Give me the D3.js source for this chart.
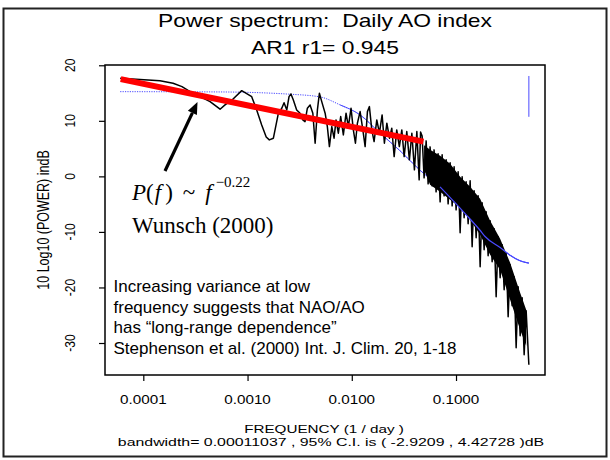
<!DOCTYPE html>
<html>
<head>
<meta charset="utf-8">
<script src="https://cdn.jsdelivr.net/npm/d3@7/dist/d3.min.js"></script>
<style>
  body { margin: 0; background: #fff; }
  text { white-space: pre; }
</style>
</head>
<body>
<script>
// periodogram of the daily AO index, [frequency (1/day), power (dB)]
const spectrumLow = [
    [6.0e-5, 17.66], [9.29e-5, 17.45], [1.445e-4, 17.23], [1.93e-4, 16.76], [2.35e-4, 16.15],
    [2.81e-4, 15.25], [3.50e-4, 14.35], [4.37e-4, 13.45], [5.45e-4, 12.09], [6.08e-4, 12.86],
    [7.10e-4, 13.76], [8.79e-4, 15.43], [1.096e-3, 14.35], [1.224e-3, 11.96], [1.367e-3, 9.26],
    [1.51e-3, 7.10], [1.618e-3, 6.57], [1.77e-3, 6.87], [1.977e-3, 11.37], [2.13e-3, 12.27],
    [2.24e-3, 13.27], [2.38e-3, 11.96], [2.50e-3, 14.35], [2.61e-3, 14.84], [2.75e-3, 13.76],
    [2.96e-3, 11.96], [3.19e-3, 11.37], [3.39e-3, 10.16], [3.56e-3, 9.86], [3.75e-3, 12.27],
    [3.98e-3, 12.86], [4.23e-3, 11.37], [4.45e-3, 5.97], [4.68e-3, 11.96], [4.89e-3, 14.96],
    [5.15e-3, 13.45], [5.55e-3, 11.37], [5.83e-3, 8.96], [6.10e-3, 5.36], [6.43e-3, 8.96],
    [6.76e-3, 6.87], [7.06e-3, 10.16], [7.43e-3, 7.77], [7.83e-3, 10.76], [8.30e-3, 7.47],
    [8.81e-3, 11.37], [9.27e-3, 8.96], [9.84e-3, 12.27], [1.035e-2, 8.36], [1.084e-2, 5.97],
    [1.132e-2, 9.57], [1.202e-2, 11.66], [1.277e-2, 8.36], [1.343e-2, 5.36], [1.413e-2, 11.66],
    [1.476e-2, 12.56], [1.556e-2, 8.36], [1.637e-2, 6.26], [1.738e-2, 10.16], [1.841e-2, 7.77],
    [1.954e-2, 11.06], [2.056e-2, 5.97], [2.17e-2, 9.57], [2.30e-2, 6.87], [2.42e-2, 8.67],
    [2.55e-2, 3.56], [2.70e-2, 8.36], [2.86e-2, 5.36], [3.02e-2, 8.36], [3.18e-2, 3.56],
    [3.37e-2, 8.06], [3.57e-2, 2.97], [3.77e-2, 7.77], [3.99e-2, 1.17], [4.21e-2, 8.06],
    [4.43e-2, -0.63], [4.57e-2, 8.0]
];
const spectrumHigh = [
    [0.0473, 7.28], [0.0494, -0.27], [0.0517, 6.39], [0.0540, -1.35], [0.0564, 5.31],
    [0.0590, -1.71], [0.0616, 4.77], [0.0644, -2.79], [0.0673, 4.05], [0.0704, -4.59],
    [0.0736, 3.87], [0.0769, -3.51], [0.0804, 2.97], [0.0840, -4.95], [0.0878, 2.43],
    [0.0918, -5.31], [0.0959, 1.71], [0.1002, -6.03], [0.1048, 0.81], [0.1095, -10.16],
    [0.1145, -0.09], [0.1196, -7.46], [0.1250, -0.99], [0.1307, -8.54], [0.1366, -0.81],
    [0.1428, -12.68], [0.1492, -2.61], [0.1560, -11.06], [0.1630, -3.51], [0.1704, -16.28],
    [0.1781, -4.77], [0.1861, -13.22], [0.1945, -6.39], [0.2033, -14.30], [0.2125, -8.00],
    [0.2221, -15.38], [0.2322, -9.44], [0.2427, -21.67], [0.2536, -10.88], [0.2651, -18.26],
    [0.2771, -12.32], [0.2896, -20.41], [0.3027, -13.76], [0.3163, -25.27], [0.3306, -15.92],
    [0.3456, -23.29], [0.3612, -18.08], [0.3775, -30.85], [0.3946, -19.87], [0.4124, -28.69],
    [0.4311, -21.85], [0.4505, -32.10], [0.4709, -24.19], [0.5, -33.90]
];
// solid core of the dense high-frequency band: [frequency, upper dB, lower dB]
const spectrumBand = [
    [0.0494, 5.6, 1.2], [0.05640, 4.77, -1.53], [0.07038, 3.69, -2.79],
    [0.08778, 2.25, -4.23], [0.1095, -0.09, -5.67], [0.1366, -1.89, -7.82], [0.1703, -4.05, -10.52],
    [0.2125, -8.00, -14.12], [0.2650, -11.24, -16.82], [0.3305, -15.56, -22.21], [0.4123, -20.95, -27.61],
    [0.4709, -24.0, -30.5]
];
// AR1 red-noise spectrum (r1 = 0.945)
const ar1Spectrum = [
    [6.0e-5, 15.25], [5.45e-4, 15.2], [2.56e-3, 14.79], [4.97e-3, 14.30], [7.73e-3, 12.86],
    [1.202e-2, 11.06], [1.87e-2, 7.77], [2.90e-2, 4.62], [4.52e-2, 1.1], [7.03e-2, -1.9],
    [0.1222, -6.7], [0.170, -9.7], [0.190, -10.83], [0.265, -12.8], [0.330, -14.2],
    [0.412, -15.2], [0.5, -15.61]
];
// power-law fit P(f) ~ f^-0.22
const fitLine = [[6.07e-5, 17.5], [0.0487, 6.26]];
// confidence bar: top at the spectrum peak, then 95% C.I. (dB)
const ciFreq = 0.4999;
const ciTop = 18.07;
const ciLimits = [-2.9209, 4.42728];

const xTicks = [0.0001, 0.001, 0.01, 0.1];
const xTickLabels = ['0.0001', '0.0010', '0.0100', '0.1000'];
const yTicks = [-30, -20, -10, 0, 10, 20];

const noteLines = [
    'Increasing variance at low',
    'frequency suggests that NAO/AO',
    'has \u201Clong-range dependence\u201D',
    'Stephenson et al. (2000) Int. J. Clim. 20, 1-18'
];

const width = 610, height = 460;
const box = {left: 105, top: 65, right: 545, bottom: 375};
const SX = 1.27; // the R part of the figure is stretched sideways
const sans = 'Liberation Sans, Arial, Helvetica, sans-serif';
const serif = 'Liberation Serif, Times New Roman, serif';

const svg = d3.select('body').append('svg')
    .attr('width', width)
    .attr('height', height);

svg.append('rect')
    .attr('width', width).attr('height', height)
    .attr('fill', '#fff');

// outer frame
svg.append('rect')
    .attr('x', 3.5).attr('y', 8.5)
    .attr('width', 603).attr('height', 448)
    .attr('fill', 'none')
    .attr('stroke', '#222')
    .attr('stroke-width', 2);

const x = d3.scaleLog()
    .domain([4.29e-5, 0.714])
    .range([box.left, box.right]);

const y = d3.scaleLinear()
    .domain([-35.76, 20.05])
    .range([box.bottom, box.top]);

function rText(x0, y0, str, size, rotate, sx) {
    return svg.append('text')
        .attr('transform', `translate(${x0},${y0}) scale(${sx || SX},1)` + (rotate ? ' rotate(-90)' : ''))
        .attr('text-anchor', 'middle')
        .attr('font-family', sans)
        .attr('font-size', size)
        .attr('fill', '#000')
        .text(str);
}

// titles
rText(325, 27, 'Power spectrum:  Daily AO index', 18);
rText(325, 53.5, 'AR1 r1= 0.945', 18);

// axes (ticks only, labels drawn stretched)
const xAxis = svg.append('g')
    .attr('transform', `translate(0,${box.bottom})`)
    .call(d3.axisBottom(x).tickValues(xTicks).tickSize(6).tickFormat(''));
const yAxis = svg.append('g')
    .attr('transform', `translate(${box.left},0)`)
    .call(d3.axisLeft(y).tickValues(yTicks).tickSize(6).tickFormat(''));
[xAxis, yAxis].forEach(a => {
    a.select('.domain').remove();
    a.selectAll('line').attr('stroke', '#000').attr('stroke-width', 1.2);
});

xTicks.forEach((t, i) => rText(x(t), 404, xTickLabels[i], 12));
yTicks.forEach(t => rText(75, y(t), String(t), 12, true));

rText(49, (box.top + box.bottom) / 2, '10 Log10 (POWER) indB', 12.5, true);
rText(324, 433, 'FREQUENCY (1 / day )', 11, false, SX * 12 / 11);
rText(331, 445.5, 'bandwidth= 0.00011037 , 95% C.I. is ( -2.9209 , 4.42728 )dB', 11.5, false, SX * 12.5 / 11.5);

// plot area
svg.append('clipPath').attr('id', 'plotclip')
    .append('rect')
    .attr('x', box.left).attr('y', box.top)
    .attr('width', box.right - box.left).attr('height', box.bottom - box.top);

const plot = svg.append('g').attr('clip-path', 'url(#plotclip)');

const line = d3.line()
    .x(d => x(d[0]))
    .y(d => y(d[1]));

// AR1 curve: dotted at low frequency, solid where the points crowd together
plot.append('path')
    .attr('d', line.curve(d3.curveMonotoneX)(ar1Spectrum))
    .attr('fill', 'none')
    .attr('stroke', '#4a4aff')
    .attr('stroke-width', 1)
    .attr('stroke-dasharray', '1.2,1.2');
plot.append('path')
    .attr('d', line.curve(d3.curveMonotoneX)(ar1Spectrum.filter(d => d[0] >= 7.73e-3)))
    .attr('fill', 'none')
    .attr('stroke', '#4a4aff')
    .attr('stroke-width', 1);

// spectrum: solid core of the dense band, then the jagged trace
plot.append('path')
    .attr('d', d3.area()
        .x(d => x(d[0]))
        .y0(d => y(d[2]))
        .y1(d => y(d[1]))(spectrumBand))
    .attr('fill', '#000');

plot.append('path')
    .attr('d', line.curve(d3.curveLinear)(spectrumLow.concat(spectrumHigh)))
    .attr('fill', 'none')
    .attr('stroke', '#000')
    .attr('stroke-width', 1.5)
    .attr('stroke-linejoin', 'round');

// blue curve shows through the band where it crosses it
plot.append('path')
    .attr('d', line.curve(d3.curveMonotoneX)(ar1Spectrum.filter(d => d[0] >= 0.07)))
    .attr('fill', 'none')
    .attr('stroke', '#4a4aff')
    .attr('stroke-width', 1.2);

// confidence bar
plot.append('line')
    .attr('x1', x(ciFreq)).attr('x2', x(ciFreq))
    .attr('y1', y(ciTop))
    .attr('y2', y(ciTop - ciLimits[1] + ciLimits[0]))
    .attr('stroke', '#4a4aff')
    .attr('stroke-width', 1);

// red power-law line
plot.append('path')
    .attr('d', line.curve(d3.curveLinear)(fitLine))
    .attr('fill', 'none')
    .attr('stroke', '#ff0000')
    .attr('stroke-width', 6);

// plot box
svg.append('rect')
    .attr('x', box.left).attr('y', box.top)
    .attr('width', box.right - box.left).attr('height', box.bottom - box.top)
    .attr('fill', 'none')
    .attr('stroke', '#000')
    .attr('stroke-width', 1.5);

// arrow annotation
const arrow = {x1: 165, y1: 171, x2: 197.5, y2: 102};
const ang = Math.atan2(arrow.y2 - arrow.y1, arrow.x2 - arrow.x1);
const headLen = 12, headW = 5;
const bx = arrow.x2 - headLen * Math.cos(ang), by = arrow.y2 - headLen * Math.sin(ang);
svg.append('line')
    .attr('x1', arrow.x1).attr('y1', arrow.y1)
    .attr('x2', bx).attr('y2', by)
    .attr('stroke', '#000')
    .attr('stroke-width', 3.2);
svg.append('path')
    .attr('d', d3.line()([
        [arrow.x2, arrow.y2],
        [bx + headW * Math.sin(ang), by - headW * Math.cos(ang)],
        [bx - headW * Math.sin(ang), by + headW * Math.cos(ang)]
    ]) + 'Z')
    .attr('fill', '#000');

// P(f) ~ f^-0.22
const eq = svg.append('text')
    .attr('x', 132).attr('y', 200)
    .attr('font-family', serif)
    .attr('font-size', 23)
    .attr('fill', '#000');
eq.append('tspan').attr('font-style', 'italic').text('P');
eq.append('tspan').text('(');
eq.append('tspan').attr('font-style', 'italic').attr('dx', 1).text('f');
eq.append('tspan').attr('dx', 4).text(')');
eq.append('tspan').attr('dx', 10).text('~');
eq.append('tspan').attr('font-style', 'italic').attr('dx', 10).text('f');
eq.append('tspan').attr('dx', 4).attr('dy', -13).attr('font-size', 15).text('\u22120.22');

svg.append('text')
    .attr('x', 132).attr('y', 233)
    .attr('font-family', serif)
    .attr('font-size', 23)
    .attr('fill', '#000')
    .text('Wunsch (2000)');

// explanatory note
svg.append('g').selectAll('text')
    .data(noteLines)
    .join('text')
    .attr('x', 113.5)
    .attr('y', (d, i) => 292 + i * 20.5)
    .attr('font-family', sans)
    .attr('font-size', 17)
    .attr('fill', '#000')
    .text(d => d);
</script>
</body>
</html>
